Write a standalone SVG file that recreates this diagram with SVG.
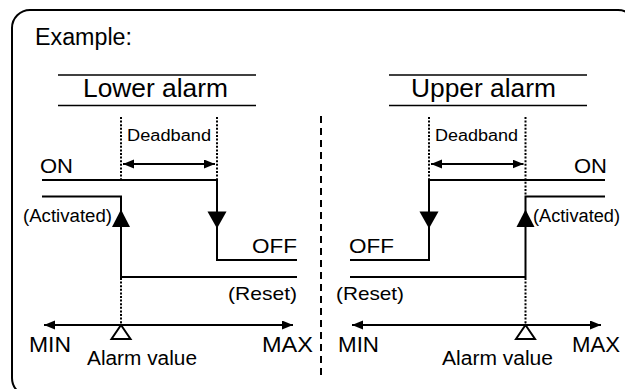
<svg xmlns="http://www.w3.org/2000/svg" width="625" height="389" viewBox="0 0 625 389">
<defs>
<marker id="ah" markerUnits="userSpaceOnUse" markerWidth="12" markerHeight="10" refX="11" refY="4.5" orient="auto-start-reverse">
<path d="M0,0 L11,4.5 L0,9 z" fill="#000"/>
</marker>
<style>
text{font-family:"Liberation Sans",Arial,sans-serif;fill:#000}
.ln{stroke:#000;stroke-width:2;fill:none}
.thin{stroke:#000;stroke-width:1.6;fill:none}
.dot{stroke:#000;stroke-width:2;stroke-dasharray:2 1.6;fill:none}
.dash{stroke:#000;stroke-width:2;stroke-dasharray:7 5;fill:none}
.tri{fill:#000}
.otri{fill:#fff;stroke:#000;stroke-width:2}
</style>
</defs>
<rect id="frame" x="12" y="10" width="624" height="386" rx="18" ry="18" fill="#fff" stroke="#000" stroke-width="2"/>
<text id="example" x="35" y="45" font-size="23" textLength="97" lengthAdjust="spacingAndGlyphs">Example:</text>
<line class="dash" x1="321" y1="116" x2="321" y2="376"/>
<g id="lower-alarm">
<line class="thin" x1="58" y1="75" x2="256" y2="75"/>
<line class="thin" x1="58" y1="105.5" x2="256" y2="105.5"/>
<text x="83" y="97" font-size="25" textLength="145" lengthAdjust="spacingAndGlyphs">Lower alarm</text>
<line class="dot" x1="121" y1="117" x2="121" y2="180"/>
<line class="dot" x1="217" y1="117" x2="217" y2="180"/>
<text x="127" y="141" font-size="16" textLength="84" lengthAdjust="spacingAndGlyphs">Deadband</text>
<path class="ln" d="M123,164 H215" marker-start="url(#ah)" marker-end="url(#ah)"/>
<text x="40" y="173" font-size="21" textLength="33" lengthAdjust="spacingAndGlyphs">ON</text>
<path class="ln" d="M42,180 H217 V260 H297"/>
<path class="tri" d="M207.5,211.5 H226.5 L217,228.5 z"/>
<text x="252" y="252.5" font-size="21" textLength="45" lengthAdjust="spacingAndGlyphs">OFF</text>
<path class="ln" d="M42,196.5 H121 V277 H297"/>
<path class="tri" d="M112,227 H130 L121,209.5 z"/>
<text x="23" y="222" font-size="18" textLength="89" lengthAdjust="spacingAndGlyphs">(Activated)</text>
<text x="228" y="300" font-size="19" textLength="69" lengthAdjust="spacingAndGlyphs">(Reset)</text>
<line class="dot" x1="121" y1="278" x2="121" y2="324"/>
<path class="ln" d="M44,325 H293" marker-start="url(#ah)" marker-end="url(#ah)"/>
<path class="otri" d="M121,325 L130.5,339 H111.5 z"/>
<text x="29" y="352" font-size="22" textLength="42" lengthAdjust="spacingAndGlyphs">MIN</text>
<text x="262" y="352" font-size="22" textLength="51" lengthAdjust="spacingAndGlyphs">MAX</text>
<text x="87" y="365" font-size="19.5" textLength="110" lengthAdjust="spacingAndGlyphs">Alarm value</text>
</g>
<g id="upper-alarm">
<line class="thin" x1="389" y1="75" x2="587" y2="75"/>
<line class="thin" x1="389" y1="105.5" x2="587" y2="105.5"/>
<text x="411" y="97" font-size="25" textLength="145" lengthAdjust="spacingAndGlyphs">Upper alarm</text>
<line class="dot" x1="429" y1="117" x2="429" y2="180"/>
<line class="dot" x1="525.5" y1="117" x2="525.5" y2="196"/>
<text x="435" y="141" font-size="16" textLength="83" lengthAdjust="spacingAndGlyphs">Deadband</text>
<path class="ln" d="M431,164 H523.5" marker-start="url(#ah)" marker-end="url(#ah)"/>
<text x="574" y="173" font-size="21" textLength="33" lengthAdjust="spacingAndGlyphs">ON</text>
<path class="ln" d="M350,260 H429 V180 H605"/>
<path class="tri" d="M419.5,211.5 H438.5 L429,228.5 z"/>
<text x="349" y="252.5" font-size="21" textLength="45" lengthAdjust="spacingAndGlyphs">OFF</text>
<path class="ln" d="M350,277 H525.5 V196.5 H605"/>
<path class="tri" d="M516.5,227 H534.5 L525.5,209.5 z"/>
<text x="533" y="222" font-size="18" textLength="87" lengthAdjust="spacingAndGlyphs">(Activated)</text>
<text x="336" y="300" font-size="19" textLength="68" lengthAdjust="spacingAndGlyphs">(Reset)</text>
<line class="dot" x1="525.5" y1="278" x2="525.5" y2="324"/>
<path class="ln" d="M352,325 H601" marker-start="url(#ah)" marker-end="url(#ah)"/>
<path class="otri" d="M525.5,325 L535,339 H516 z"/>
<text x="338" y="352" font-size="22" textLength="41" lengthAdjust="spacingAndGlyphs">MIN</text>
<text x="572" y="352" font-size="22" textLength="48" lengthAdjust="spacingAndGlyphs">MAX</text>
<text x="442" y="365" font-size="19.5" textLength="111" lengthAdjust="spacingAndGlyphs">Alarm value</text>
</g>
</svg>
